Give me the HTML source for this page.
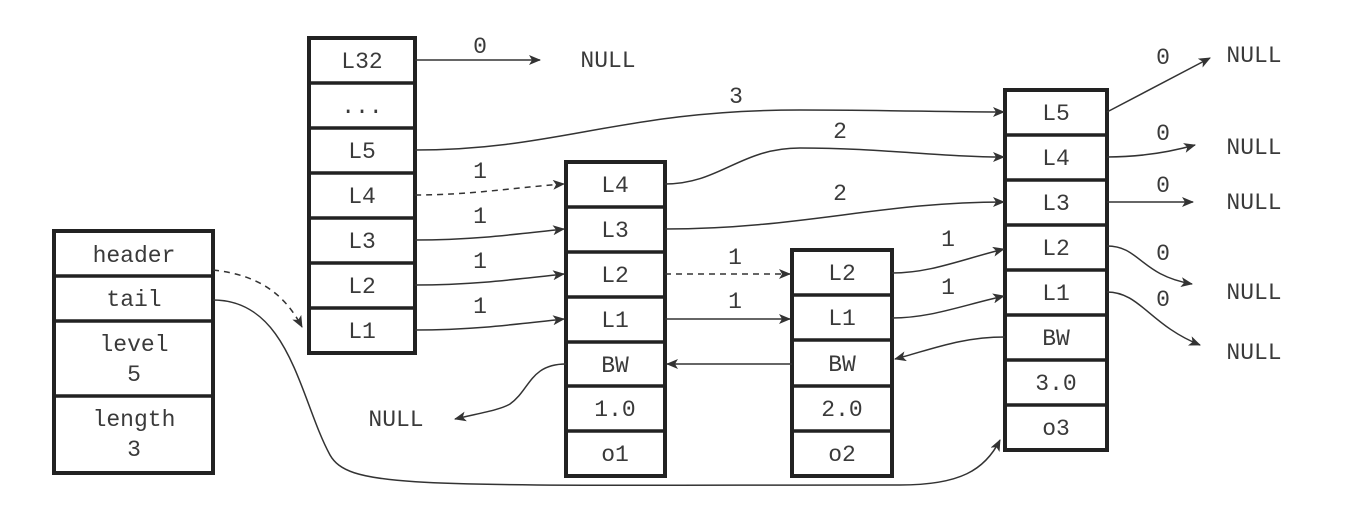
<!DOCTYPE html>
<html><head><meta charset="utf-8"><style>
html,body{margin:0;padding:0;background:#fff}
svg{display:block}
text{font-family:"Liberation Mono",monospace;font-size:23px;fill:#3a3a3a;text-anchor:middle}
.b{fill:#fff;stroke:#222;stroke-width:4}
.l{stroke:#222;stroke-width:3.5}
.a{fill:none;stroke:#333;stroke-width:1.5;marker-end:url(#m)}
.d{stroke-dasharray:6,5}
</style></head><body>
<svg width="1345" height="515" viewBox="0 0 1345 515">
<defs><marker id="m" viewBox="0 0 12 10" refX="11" refY="5" markerWidth="12" markerHeight="10" markerUnits="userSpaceOnUse" orient="auto"><path d="M0,0 L12,5 L0,10 L3,5 Z" fill="#333"/></marker></defs>

<rect class="b" x="54" y="231" width="159" height="242"/>
<line class="l" x1="54" y1="276" x2="213" y2="276"/>
<line class="l" x1="54" y1="321" x2="213" y2="321"/>
<line class="l" x1="54" y1="396" x2="213" y2="396"/>
<text x="134" y="262">header</text>
<text x="134" y="306">tail</text>
<text x="134" y="351">level</text>
<text x="134" y="381">5</text>
<text x="134" y="426">length</text>
<text x="134" y="456">3</text>

<rect class="b" x="309" y="38" width="106" height="315"/>
<g class="l">
<line x1="309" y1="83" x2="415" y2="83"/><line x1="309" y1="128" x2="415" y2="128"/>
<line x1="309" y1="173" x2="415" y2="173"/><line x1="309" y1="218" x2="415" y2="218"/>
<line x1="309" y1="263" x2="415" y2="263"/><line x1="309" y1="308" x2="415" y2="308"/></g>
<text x="362" y="68">L32</text><text x="362" y="113">...</text><text x="362" y="158">L5</text>
<text x="362" y="203">L4</text><text x="362" y="248">L3</text><text x="362" y="293">L2</text><text x="362" y="338">L1</text>

<rect class="b" x="566" y="162" width="99" height="314"/>
<g class="l">
<line x1="566" y1="207" x2="665" y2="207"/><line x1="566" y1="252" x2="665" y2="252"/>
<line x1="566" y1="297" x2="665" y2="297"/><line x1="566" y1="342" x2="665" y2="342"/>
<line x1="566" y1="386" x2="665" y2="386"/><line x1="566" y1="431" x2="665" y2="431"/></g>
<text x="615" y="192">L4</text><text x="615" y="237">L3</text><text x="615" y="282">L2</text>
<text x="615" y="327">L1</text><text x="615" y="372">BW</text><text x="615" y="416">1.0</text><text x="615" y="461">o1</text>

<rect class="b" x="792" y="250" width="100" height="226"/>
<g class="l">
<line x1="792" y1="295" x2="892" y2="295"/><line x1="792" y1="340" x2="892" y2="340"/>
<line x1="792" y1="386" x2="892" y2="386"/><line x1="792" y1="431" x2="892" y2="431"/></g>
<text x="842" y="280">L2</text><text x="842" y="325">L1</text><text x="842" y="371">BW</text>
<text x="842" y="416">2.0</text><text x="842" y="461">o2</text>

<rect class="b" x="1005" y="90" width="102" height="360"/>
<g class="l">
<line x1="1005" y1="135" x2="1107" y2="135"/><line x1="1005" y1="180" x2="1107" y2="180"/>
<line x1="1005" y1="225" x2="1107" y2="225"/><line x1="1005" y1="270" x2="1107" y2="270"/>
<line x1="1005" y1="315" x2="1107" y2="315"/><line x1="1005" y1="360" x2="1107" y2="360"/>
<line x1="1005" y1="405" x2="1107" y2="405"/></g>
<text x="1056" y="120">L5</text><text x="1056" y="165">L4</text><text x="1056" y="210">L3</text>
<text x="1056" y="255">L2</text><text x="1056" y="300">L1</text><text x="1056" y="345">BW</text>
<text x="1056" y="390">3.0</text><text x="1056" y="435">o3</text>

<text x="608" y="67">NULL</text>
<text x="396" y="426">NULL</text>
<text x="1254" y="62">NULL</text>
<text x="1254" y="154">NULL</text>
<text x="1254" y="209">NULL</text>
<text x="1254" y="299">NULL</text>
<text x="1254" y="359">NULL</text>

<text x="480" y="53">0</text>
<text x="736" y="103">3</text>
<text x="840" y="138">2</text>
<text x="840" y="200">2</text>
<text x="480" y="178">1</text><text x="480" y="223">1</text><text x="480" y="268">1</text><text x="480" y="313">1</text>
<text x="735" y="264">1</text><text x="735" y="308">1</text>
<text x="948" y="246">1</text><text x="948" y="294">1</text>
<text x="1163" y="64">0</text><text x="1163" y="140">0</text><text x="1163" y="192">0</text>
<text x="1163" y="260">0</text><text x="1163" y="306">0</text>

<path class="a" d="M415,60 L540,60"/>
<path class="a" d="M415,150 C560,150 620,110 800,110 C880,110 950,112 1004,112"/>
<path class="a d" d="M415,195 C470,195 510,188 564,184"/>
<path class="a" d="M415,240 C470,240 510,235 564,229"/>
<path class="a" d="M415,285 C470,285 510,280 564,274"/>
<path class="a" d="M415,330 C470,330 510,325 564,319"/>
<path class="a" d="M665,184 C720,184 740,148 800,148 C880,148 940,157 1004,157"/>
<path class="a" d="M665,229 C800,229 880,202 1004,202"/>
<path class="a d" d="M665,274 L790,274"/>
<path class="a" d="M665,319 L790,319"/>
<path class="a" d="M892,273 C930,273 960,260 1004,249"/>
<path class="a" d="M892,318 C930,318 960,306 1004,296"/>
<path class="a" d="M792,364 L667,364"/>
<path class="a" d="M1005,337 C960,337 930,350 895,359"/>
<path class="a" d="M566,364 C530,364 530,390 510,404 C500,410 480,413 455,419"/>
<path class="a" d="M1107,112 L1210,58"/>
<path class="a" d="M1107,157 C1140,157 1170,152 1195,145"/>
<path class="a" d="M1107,202 L1193,202"/>
<path class="a" d="M1107,246 C1140,246 1140,275 1192,284"/>
<path class="a" d="M1107,292 C1140,292 1150,325 1200,345"/>
<path class="a d" d="M213,270 C260,275 285,295 302,327"/>
<path class="a" d="M213,300 C290,300 300,400 330,455 C350,490 420,485 900,485 C960,485 985,470 1000,440"/>
</svg>
</body></html>
